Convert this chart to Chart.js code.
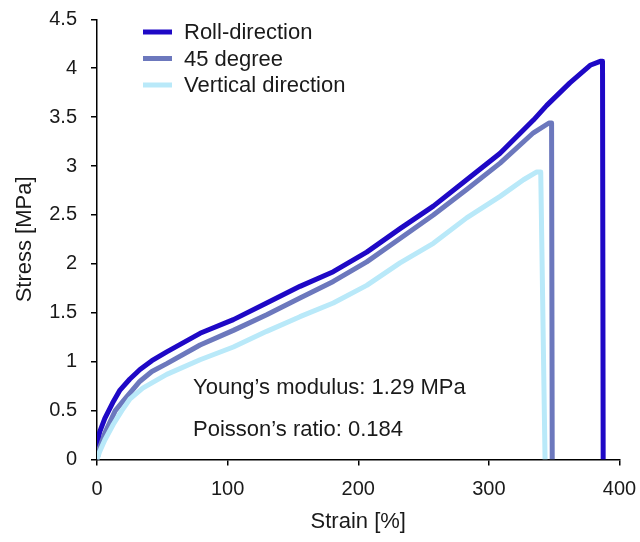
<!DOCTYPE html>
<html>
<head>
<meta charset="utf-8">
<script src="https://cdn.jsdelivr.net/npm/chart.js@4.4.1/dist/chart.umd.min.js"></script>
<style>
  html, body { margin: 0; padding: 0; background: #fff; }
  #wrap { width: 640px; height: 542px; }
</style>
</head>
<body>
<div id="wrap"><canvas id="stressChart" width="640" height="542"></canvas></div>
<script>
// values
var seriesNames = ['Roll-direction', '45 degree', 'Vertical direction'];
var seriesColors = ['#1e08c6', '#6c78bd', '#b9e9f9'];

var rollStrain = [0, 2, 6, 12, 17.6, 25, 32.9, 42, 53.4, 78.9, 104.4, 129.9, 155.4, 180.9, 206.5, 232, 257.5, 283, 308.6, 334.1, 344.3, 362, 377.5, 385.2, 387, 387.5];
var rollStress = [0.13, 0.28, 0.42, 0.58, 0.71, 0.82, 0.92, 1.01, 1.10, 1.29, 1.43, 1.60, 1.77, 1.92, 2.12, 2.36, 2.59, 2.86, 3.13, 3.47, 3.62, 3.85, 4.03, 4.07, 4.07, 0];

var degStrain = [0, 2, 6, 14, 22.7, 32.9, 42, 53.4, 78.9, 104.4, 129.9, 155.4, 180.9, 206.5, 232, 257.5, 283, 308.6, 334.1, 346, 348, 348.5];
var degStress = [0, 0.12, 0.27, 0.50, 0.64, 0.80, 0.90, 0.98, 1.17, 1.32, 1.48, 1.65, 1.82, 2.02, 2.26, 2.50, 2.76, 3.03, 3.34, 3.44, 3.44, 0];

var vertStrain = [0, 2, 6, 12.5, 19, 25.3, 35, 53.4, 78.9, 104.4, 129.9, 155.4, 180.9, 206.5, 232, 257.5, 283, 308.6, 326.5, 336.7, 339.7, 343];
var vertStress = [0, 0.08, 0.20, 0.36, 0.50, 0.62, 0.73, 0.87, 1.02, 1.15, 1.31, 1.46, 1.60, 1.78, 2.01, 2.21, 2.47, 2.69, 2.86, 2.94, 2.94, 0];

var xTicks = [0, 100, 200, 300, 400];
var yTickLabels = ['0', '0.5', '1', '1.5', '2', '2.5', '3', '3.5', '4', '4.5'];
var notes = ['Young\u2019s modulus: 1.29 MPa', 'Poisson\u2019s ratio: 0.184'];

var FONT = '"Liberation Sans", Arial, Helvetica, sans-serif';

var toPoints = function(xs, ys){
    return xs.map(function(x, i){ return { x: x, y: ys[i] }; });
};

var makeSet = function(i, xs, ys, order){
    return {
        label: seriesNames[i],
        data: toPoints(xs, ys),
        borderColor: seriesColors[i],
        backgroundColor: seriesColors[i],
        borderWidth: 5,
        borderJoinStyle: 'round',
        pointRadius: 0,
        tension: 0,
        fill: false,
        order: order
    };
};

// legend and the two text notes drawn inside the plot
var extrasPlugin = {
    id: 'extras',
    afterDatasetsDraw: function(chart){
        var ctx = chart.ctx;
        var xs = chart.scales.x;
        var ys = chart.scales.y;
        ctx.save();
        ctx.font = '22px ' + FONT;
        ctx.textBaseline = 'middle';
        ctx.fillStyle = '#1a1a1a';

        chart.data.datasets.forEach(function(ds, i){
            var cy = 32 + i * 26.5;
            ctx.strokeStyle = ds.borderColor;
            ctx.lineWidth = 5;
            ctx.beginPath();
            ctx.moveTo(143, cy);
            ctx.lineTo(172, cy);
            ctx.stroke();
            ctx.fillText(ds.label, 184, cy + 1);
        });

        ctx.textAlign = 'left';
        ctx.fillText(notes[0], xs.getPixelForValue(73.5), ys.getPixelForValue(0.73));
        ctx.fillText(notes[1], xs.getPixelForValue(73.5), ys.getPixelForValue(0.30));
        ctx.restore();
    }
};

var ctx = document.getElementById('stressChart').getContext('2d');
var stressChart = new Chart(ctx, {
    type: 'line',
    data: {
        datasets: [
            makeSet(0, rollStrain, rollStress, 2),
            makeSet(1, degStrain, degStress, 1),
            makeSet(2, vertStrain, vertStress, 0)
        ]
    },
    options: {
        responsive: false,
        animation: false,
        devicePixelRatio: 1,
        layout: { padding: { left: 0, right: 20.5, top: 19.3, bottom: 0 } },
        plugins: {
            legend: { display: false },
            tooltip: { enabled: false }
        },
        scales: {
            x: {
                type: 'linear',
                min: 0,
                max: 400,
                afterBuildTicks: function(axis){
                    axis.ticks = xTicks.map(function(v){ return { value: v }; });
                },
                afterFit: function(axis){
                    axis.height = 82.5;
                    axis.paddingLeft = 0;
                    axis.paddingRight = 0;
                },
                grid: { display: true, drawOnChartArea: false, drawTicks: true, tickLength: 6, color: '#000', lineWidth: 1.5 },
                border: { display: true, color: '#000', width: 1.5 },
                ticks: { color: '#1a1a1a', font: { family: FONT, size: 20 }, padding: 12, maxRotation: 0 },
                title: { display: true, text: 'Strain [%]', color: '#1a1a1a', font: { family: FONT, size: 22 }, padding: { top: 0, bottom: 7 } }
            },
            y: {
                type: 'linear',
                min: 0,
                max: 4.5,
                ticks: {
                    stepSize: 0.5,
                    color: '#1a1a1a',
                    font: { family: FONT, size: 20 },
                    padding: 14,
                    callback: function(v, i){ return yTickLabels[i]; }
                },
                afterFit: function(axis){
                    axis.width = 97;
                    axis.paddingTop = 0;
                    axis.paddingBottom = 0;
                },
                grid: { display: true, drawOnChartArea: false, drawTicks: true, tickLength: 6, color: '#000', lineWidth: 1.5 },
                border: { display: true, color: '#000', width: 1.5 },
                title: { display: true, text: 'Stress [MPa]', color: '#1a1a1a', font: { family: FONT, size: 22 }, padding: { top: 12, bottom: 0 } }
            }
        }
    },
    plugins: [extrasPlugin]
});
</script>
</body>
</html>
